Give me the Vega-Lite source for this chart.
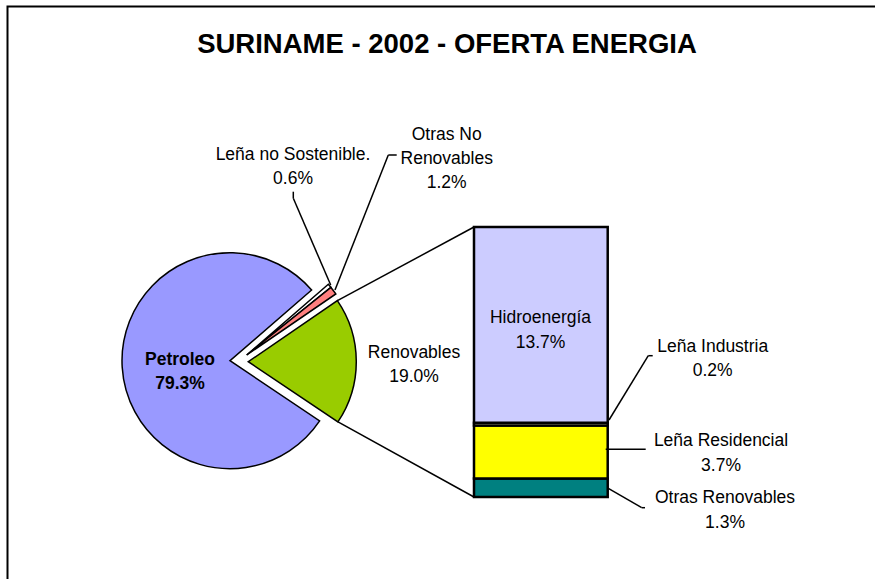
{
  "$schema": "https://vega.github.io/schema/vega-lite/v6.json",
  "width": 875,
  "height": 579,
  "autosize": {"type": "fit", "contains": "padding"},
  "padding": 0,
  "background": "white",
  "config": {"view": {"stroke": null}, "axis": {"disable": true}},
  "datasets": {
    "pie": [
      {"name": "Petroleo", "value": 79.3, "ord": 1},
      {"name": "Leña no Sostenible.", "value": 0.6, "ord": 2},
      {"name": "Otras No Renovables", "value": 1.2, "ord": 3},
      {"name": "Renovables", "value": 19.0, "ord": 4}
    ],
    "bar": [
      {"name": "Otras Renovables", "value": 1.3, "ord": 1},
      {"name": "Leña Residencial", "value": 3.7, "ord": 2},
      {"name": "Leña Industria", "value": 0.2, "ord": 3},
      {"name": "Hidroenergía", "value": 13.7, "ord": 4}
    ]
  },
  "data": {"values": [{"annotation": "layout"}]},
  "layer": [
    {
      "mark": {"type": "rect", "filled": false, "stroke": "black", "strokeWidth": 2, "clip": true},
      "encoding": {
        "x": {"datum": 0.525, "type": "quantitative", "scale": {"domain": [0, 61.25], "nice": false, "zero": false}, "axis": null},
        "x2": {"datum": 63},
        "y": {"datum": 34.335, "type": "quantitative", "scale": {"domain": [-5.74, 34.79], "nice": false, "zero": false}, "axis": null},
        "y2": {"datum": -7}
      }
    },
    {
      "mark": {"type": "text", "text": "SURINAME - 2002 - OFERTA ENERGIA", "font": "Liberation Sans", "fontSize": 27.5, "fontWeight": "bold", "align": "center", "baseline": "alphabetic", "color": "black"},
      "encoding": {"x": {"datum": 31.29}, "y": {"datum": 31.08}}
    },
    {"mark": {"type": "rule", "color": "black", "strokeWidth": 1.5}, "encoding": {"x": {"datum": 23.62}, "y": {"datum": 13.74}, "x2": {"datum": 33.18}, "y2": {"datum": 18.9}}},
    {"mark": {"type": "rule", "color": "black", "strokeWidth": 1.5}, "encoding": {"x": {"datum": 23.66}, "y": {"datum": 5.26}, "x2": {"datum": 33.18}, "y2": {"datum": 0}}},
    {
      "data": {"name": "pie"},
      "transform": [
        {"stack": "value", "groupby": [], "sort": [{"field": "ord", "order": "ascending"}], "as": ["s0", "s1"]},
        {"filter": "datum.ord === 1"}
      ],
      "mark": {"type": "arc", "outerRadius": 108, "stroke": "black", "strokeWidth": 1.5},
      "encoding": {
        "x": {"datum": 16.1},
        "y": {"datum": 9.54},
        "theta": {"field": "s0", "type": "quantitative", "stack": null, "scale": {"domain": [0, 100.1], "range": [2.1625, 8.4457], "nice": false, "zero": false}},
        "theta2": {"field": "s1"},
        "color": {"field": "name", "type": "nominal", "legend": null, "scale": {"domain": ["Petroleo", "Leña no Sostenible.", "Otras No Renovables", "Renovables", "Otras Renovables", "Leña Residencial", "Leña Industria", "Hidroenergía"], "range": ["#9999FF", "#FFFFFF", "#FF8080", "#99CC00", "#008080", "#FFFF00", "#FFFFCC", "#CCCCFF"]}}
      }
    },
    {
      "data": {"name": "pie"},
      "transform": [
        {"stack": "value", "groupby": [], "sort": [{"field": "ord", "order": "ascending"}], "as": ["s0", "s1"]},
        {"filter": "datum.ord === 2 || datum.ord === 3"}
      ],
      "mark": {"type": "arc", "outerRadius": 108, "stroke": "black", "strokeWidth": 1.5},
      "encoding": {
        "x": {"datum": 17.27},
        "y": {"datum": 9.94},
        "theta": {"field": "s0", "type": "quantitative", "stack": null, "scale": {"domain": [0, 100.1], "range": [2.1625, 8.4457], "nice": false, "zero": false}},
        "theta2": {"field": "s1"},
        "color": {"field": "name", "type": "nominal", "legend": null, "scale": {"domain": ["Petroleo", "Leña no Sostenible.", "Otras No Renovables", "Renovables", "Otras Renovables", "Leña Residencial", "Leña Industria", "Hidroenergía"], "range": ["#9999FF", "#FFFFFF", "#FF8080", "#99CC00", "#008080", "#FFFF00", "#FFFFCC", "#CCCCFF"]}}
      }
    },
    {
      "data": {"name": "pie"},
      "transform": [
        {"stack": "value", "groupby": [], "sort": [{"field": "ord", "order": "ascending"}], "as": ["s0", "s1"]},
        {"filter": "datum.ord === 4"}
      ],
      "mark": {"type": "arc", "outerRadius": 108, "stroke": "black", "strokeWidth": 1.5},
      "encoding": {
        "x": {"datum": 17.38},
        "y": {"datum": 9.47},
        "theta": {"field": "s0", "type": "quantitative", "stack": null, "scale": {"domain": [0, 100.1], "range": [2.1625, 8.4457], "nice": false, "zero": false}},
        "theta2": {"field": "s1"},
        "color": {"field": "name", "type": "nominal", "legend": null, "scale": {"domain": ["Petroleo", "Leña no Sostenible.", "Otras No Renovables", "Renovables", "Otras Renovables", "Leña Residencial", "Leña Industria", "Hidroenergía"], "range": ["#9999FF", "#FFFFFF", "#FF8080", "#99CC00", "#008080", "#FFFF00", "#FFFFCC", "#CCCCFF"]}}
      }
    },
    {
      "data": {"name": "bar"},
      "transform": [
        {"stack": "value", "groupby": [], "sort": [{"field": "ord", "order": "ascending"}], "as": ["b0", "b1"]}
      ],
      "mark": {"type": "bar", "stroke": "black", "strokeWidth": 2.5},
      "encoding": {
        "x": {"datum": 33.18},
        "x2": {"datum": 42.54},
        "y": {"field": "b0", "type": "quantitative", "stack": null},
        "y2": {"field": "b1"},
        "color": {"field": "name", "type": "nominal", "legend": null, "scale": {"domain": ["Petroleo", "Leña no Sostenible.", "Otras No Renovables", "Renovables", "Otras Renovables", "Leña Residencial", "Leña Industria", "Hidroenergía"], "range": ["#9999FF", "#FFFFFF", "#FF8080", "#99CC00", "#008080", "#FFFF00", "#FFFFCC", "#CCCCFF"]}}
      }
    },
    {"mark": {"type": "rule", "color": "black", "strokeWidth": 1.5}, "encoding": {"x": {"datum": 20.531}, "y": {"datum": 21.371}, "x2": {"datum": 20.531}, "y2": {"datum": 20.909}}},
    {"mark": {"type": "rule", "color": "black", "strokeWidth": 1.5}, "encoding": {"x": {"datum": 20.531}, "y": {"datum": 20.909}, "x2": {"datum": 23.149}, "y2": {"datum": 14.84}}},
    {"mark": {"type": "rule", "color": "black", "strokeWidth": 1.5}, "encoding": {"x": {"datum": 27.769}, "y": {"datum": 23.94}, "x2": {"datum": 27.181}, "y2": {"datum": 23.94}}},
    {"mark": {"type": "rule", "color": "black", "strokeWidth": 1.5}, "encoding": {"x": {"datum": 27.181}, "y": {"datum": 23.94}, "x2": {"datum": 23.45}, "y2": {"datum": 14.49}}},
    {"mark": {"type": "rule", "color": "black", "strokeWidth": 1.5}, "encoding": {"x": {"datum": 45.689}, "y": {"datum": 9.891}, "x2": {"datum": 45.381}, "y2": {"datum": 9.891}}},
    {"mark": {"type": "rule", "color": "black", "strokeWidth": 1.5}, "encoding": {"x": {"datum": 45.381}, "y": {"datum": 9.891}, "x2": {"datum": 42.63}, "y2": {"datum": 5.39}}},
    {"mark": {"type": "rule", "color": "black", "strokeWidth": 1.5}, "encoding": {"x": {"datum": 45.199}, "y": {"datum": 3.339}, "x2": {"datum": 42.399}, "y2": {"datum": 3.339}}},
    {"mark": {"type": "rule", "color": "black", "strokeWidth": 1.5}, "encoding": {"x": {"datum": 45.15}, "y": {"datum": -0.749}, "x2": {"datum": 44.919}, "y2": {"datum": -0.749}}},
    {"mark": {"type": "rule", "color": "black", "strokeWidth": 1.5}, "encoding": {"x": {"datum": 44.919}, "y": {"datum": -0.749}, "x2": {"datum": 42.581}, "y2": {"datum": 0.609}}},
    {
      "data": {"name": "pie"},
      "transform": [{"filter": "datum.ord === 1"}, {"calculate": "datum.name + '\\n' + format(datum.value, '.1f') + '%'", "as": "lbl"}],
      "mark": {"type": "text", "font": "Liberation Sans", "fontSize": 17.5, "fontWeight": "bold", "align": "center", "baseline": "alphabetic", "lineBreak": "\n", "lineHeight": 24, "color": "black"},
      "encoding": {"x": {"datum": 12.6}, "y": {"datum": 9.24}, "text": {"field": "lbl"}}
    },
    {
      "data": {"name": "pie"},
      "transform": [{"filter": "datum.ord === 2"}, {"calculate": "datum.name + '\\n' + format(datum.value, '.1f') + '%'", "as": "lbl"}],
      "mark": {"type": "text", "font": "Liberation Sans", "fontSize": 17.5, "align": "center", "baseline": "alphabetic", "lineBreak": "\n", "lineHeight": 24, "color": "black"},
      "encoding": {"x": {"datum": 20.51}, "y": {"datum": 23.59}, "text": {"field": "lbl"}}
    },
    {
      "data": {"name": "pie"},
      "transform": [{"filter": "datum.ord === 3"}, {"calculate": "replace(datum.name, ' Renovables', '\\nRenovables') + '\\n' + format(datum.value, '.1f') + '%'", "as": "lbl"}],
      "mark": {"type": "text", "font": "Liberation Sans", "fontSize": 17.5, "align": "center", "baseline": "alphabetic", "lineBreak": "\n", "lineHeight": 24, "color": "black"},
      "encoding": {"x": {"datum": 31.27}, "y": {"datum": 24.99}, "text": {"field": "lbl"}}
    },
    {
      "data": {"name": "pie"},
      "transform": [{"filter": "datum.ord === 4"}, {"calculate": "datum.name + '\\n' + format(datum.value, '.1f') + '%'", "as": "lbl"}],
      "mark": {"type": "text", "font": "Liberation Sans", "fontSize": 17.5, "align": "center", "baseline": "alphabetic", "lineBreak": "\n", "lineHeight": 24, "color": "black"},
      "encoding": {"x": {"datum": 28.98}, "y": {"datum": 9.71}, "text": {"field": "lbl"}}
    },
    {
      "data": {"name": "bar"},
      "transform": [{"filter": "datum.ord === 4"}, {"calculate": "datum.name + '\\n' + format(datum.value, '.1f') + '%'", "as": "lbl"}],
      "mark": {"type": "text", "font": "Liberation Sans", "fontSize": 17.5, "align": "center", "baseline": "alphabetic", "lineBreak": "\n", "lineHeight": 25, "color": "black"},
      "encoding": {"x": {"datum": 37.835}, "y": {"datum": 12.16}, "text": {"field": "lbl"}}
    },
    {
      "data": {"name": "bar"},
      "transform": [{"filter": "datum.ord === 3"}, {"calculate": "datum.name + '\\n' + format(datum.value, '.1f') + '%'", "as": "lbl"}],
      "mark": {"type": "text", "font": "Liberation Sans", "fontSize": 17.5, "align": "center", "baseline": "alphabetic", "lineBreak": "\n", "lineHeight": 24, "color": "black"},
      "encoding": {"x": {"datum": 49.89}, "y": {"datum": 10.17}, "text": {"field": "lbl"}}
    },
    {
      "data": {"name": "bar"},
      "transform": [{"filter": "datum.ord === 2"}, {"calculate": "datum.name + '\\n' + format(datum.value, '.1f') + '%'", "as": "lbl"}],
      "mark": {"type": "text", "font": "Liberation Sans", "fontSize": 17.5, "align": "center", "baseline": "alphabetic", "lineBreak": "\n", "lineHeight": 25, "color": "black"},
      "encoding": {"x": {"datum": 50.47}, "y": {"datum": 3.59}, "text": {"field": "lbl"}}
    },
    {
      "data": {"name": "bar"},
      "transform": [{"filter": "datum.ord === 1"}, {"calculate": "datum.name + '\\n' + format(datum.value, '.1f') + '%'", "as": "lbl"}],
      "mark": {"type": "text", "font": "Liberation Sans", "fontSize": 17.5, "align": "center", "baseline": "alphabetic", "lineBreak": "\n", "lineHeight": 25, "color": "black"},
      "encoding": {"x": {"datum": 50.75}, "y": {"datum": -0.44}, "text": {"field": "lbl"}}
    }
  ]
}
